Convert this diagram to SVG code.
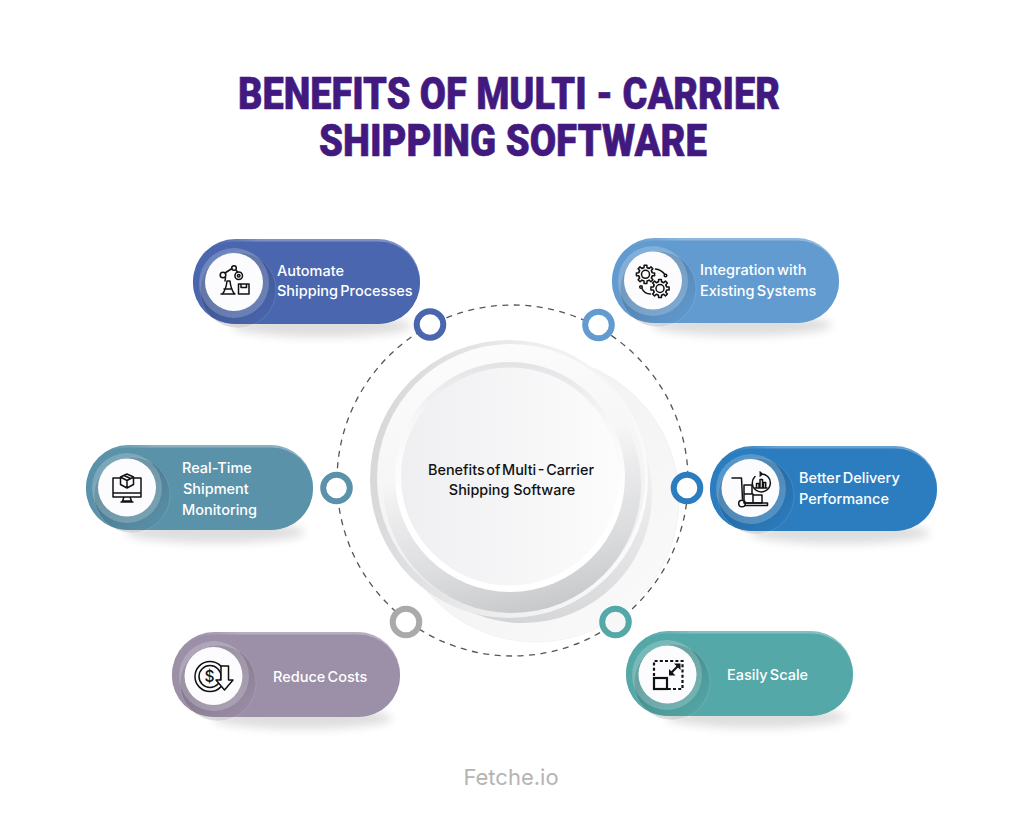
<svg xmlns="http://www.w3.org/2000/svg" width="1024" height="823" viewBox="0 0 1024 823">
<defs>
<linearGradient id="back" x1="0" y1="0" x2="1" y2="1"><stop offset="0" stop-color="#ededee"/><stop offset="1" stop-color="#fbfbfb"/></linearGradient>
<linearGradient id="shade" x1="0.7" y1="0.2" x2="0.45" y2="1"><stop offset="0" stop-color="#f4f4f5"/><stop offset="1" stop-color="#d4d5d7"/></linearGradient>
<linearGradient id="ring" x1="0" y1="0.35" x2="1" y2="0.5"><stop offset="0" stop-color="#d6d7d9"/><stop offset="0.6" stop-color="#f0f0f1"/><stop offset="1" stop-color="#fbfbfc"/></linearGradient>
<linearGradient id="ringIn" x1="0.3" y1="0" x2="0.5" y2="1"><stop offset="0" stop-color="#fcfcfd"/><stop offset="0.55" stop-color="#f5f5f6"/><stop offset="1" stop-color="#ececee"/></linearGradient>
<linearGradient id="well" x1="0.4" y1="0.4" x2="0.55" y2="1"><stop offset="0" stop-color="#cfd0d2" stop-opacity="0"/><stop offset="0.6" stop-color="#d3d4d6" stop-opacity=".65"/><stop offset="1" stop-color="#c8c9cb"/></linearGradient>
<linearGradient id="rim" x1="0" y1="0" x2="0" y2="1"><stop offset="0" stop-color="#e2e3e5"/><stop offset="0.25" stop-color="#f7f7f8"/><stop offset="0.6" stop-color="#fff"/></linearGradient>
<linearGradient id="face" x1="0" y1="0" x2="1" y2="0"><stop offset="0" stop-color="#efeff1"/><stop offset="1" stop-color="#fcfcfd"/></linearGradient>
<linearGradient id="hl" x1="0" y1="0" x2="1" y2="0"><stop offset="0.08" stop-color="#fff" stop-opacity="0"/><stop offset="0.3" stop-color="#fff" stop-opacity=".28"/></linearGradient>
<linearGradient id="ghost" x1="0.35" y1="0.35" x2="0.85" y2="0.95"><stop offset="0" stop-color="#000" stop-opacity=".16"/><stop offset="0.6" stop-color="#000" stop-opacity=".07"/><stop offset="1" stop-color="#000" stop-opacity=".012"/></linearGradient>
<filter id="soft" x="-30%" y="-150%" width="160%" height="400%"><feGaussianBlur stdDeviation="5"/></filter>
<path id="tooth" d="M-2.600-6.300L-1.500-6.700L-1.400-9.100H1.400L1.500-6.700L2.600-6.300"/>
<g id="gear"><use href="#tooth"/><use href="#tooth" transform="rotate(45)"/><use href="#tooth" transform="rotate(90)"/><use href="#tooth" transform="rotate(135)"/><use href="#tooth" transform="rotate(180)"/><use href="#tooth" transform="rotate(225)"/><use href="#tooth" transform="rotate(270)"/><use href="#tooth" transform="rotate(315)"/><circle r="4"/></g>
</defs>
<style>
text{font-family:Inter,"Liberation Sans",sans-serif}
.title{font-family:Roboto,"Liberation Sans",sans-serif;font-weight:900;font-size:44px;fill:#421a7f;stroke:#421a7f;stroke-width:.6;text-anchor:middle}
.lab{font-size:14.5px;font-weight:500;fill:#fff;word-spacing:-1.600px}
.ctr{font-size:14.4px;font-weight:500;fill:#111;text-anchor:middle}
.ic{fill:none;stroke:#111;stroke-width:1.500;stroke-linejoin:round;stroke-linecap:round}
.halo{fill:#fff;opacity:.2}
.disc{fill:#fcfcfe}
.ghost{fill:url(#ghost);stroke:#fff;stroke-opacity:.2;stroke-width:.6}
.shadow{fill:#000;opacity:.13;filter:url(#soft)}
.hl{fill:url(#hl)}
.ringdot{stroke-width:6}
</style>
<rect width="1024" height="823" fill="#fff"/>
<text class="title" x="509" y="108.500" textLength="542" lengthAdjust="spacingAndGlyphs">BENEFITS OF MULTI - CARRIER</text>
<text class="title" x="513" y="156" textLength="388" lengthAdjust="spacingAndGlyphs">SHIPPING SOFTWARE</text>

<g id="center">
<circle cx="536" cy="499" r="143" fill="url(#back)" stroke="#ececee" stroke-width=".6"/>
<circle cx="523" cy="494" r="129" fill="url(#shade)"/>
<circle cx="509" cy="479" r="139" fill="url(#ring)"/>
<circle cx="511" cy="478" r="134" fill="url(#ringIn)"/>
<circle cx="512" cy="484" r="129" fill="url(#well)"/>
<circle cx="510" cy="477" r="115" fill="url(#rim)"/>
<circle cx="510" cy="476.500" r="109" fill="url(#face)"/>
<text class="ctr" x="511" y="475" style="word-spacing:-2.200px">Benefits of Multi - Carrier</text>
<text class="ctr" x="512" y="495">Shipping Software</text>
</g>

<g id="connectors">
<circle cx="512.500" cy="480.500" r="175.500" fill="none" stroke="#555" stroke-width="1.300" stroke-dasharray="6 5.500"/>
<circle class="ringdot" cx="430" cy="324.500" r="13.300" fill="#fff" stroke="#4a66ae"/>
<circle class="ringdot" cx="598.500" cy="325" r="13.300" fill="#fff" stroke="#629bd0"/>
<circle class="ringdot" cx="336.500" cy="488" r="13.300" fill="#fff" stroke="#5a92aa"/>
<circle class="ringdot" cx="687" cy="488" r="13.300" fill="#fff" stroke="#2c7dbf"/>
<circle class="ringdot" cx="406" cy="622" r="13.300" fill="#fff" stroke="#aca9aa"/>
<circle class="ringdot" cx="615.500" cy="622" r="13.300" fill="#f7f7f8" stroke="#55a8a8"/>
</g>

<g id="node-automate">
<ellipse class="shadow" cx="322" cy="326" rx="90" ry="11"/>
<circle class="ghost" cx="238" cy="290" r="38"/>
<rect x="193" y="239" width="227" height="85" rx="42.500" fill="#4a66ae"/>
<rect class="hl" x="193" y="239" width="227" height="85" rx="42.500"/>
<rect x="193" y="241.500" width="227" height="82.500" rx="41.500" fill="#4a66ae"/>
<circle class="ghost" cx="238" cy="290" r="38"/>
<circle class="halo" cx="234" cy="283" r="35"/>
<circle class="disc" cx="234" cy="282" r="29"/>
<g class="ic"><path d="M221 294h14M222.500 294c3-4 4-8 4.500-13h3c.5 5 1.500 9 4.500 13M224 289h8M225 273l7-4.500M225.500 277.500l-.5 3.500M236 270l1.500 2"/><circle cx="223" cy="275" r="2.800"/><circle cx="234" cy="268" r="2.300"/><circle cx="238.700" cy="275.700" r="3.800"/><circle cx="238.700" cy="275.700" r="1.300"/><path d="M238.500 284h10.500v10h-10.500zM241 284v3.500h5.500v-3.500"/></g>
<text class="lab" x="277" y="275.500">Automate</text>
<text class="lab" x="277" y="295.500">Shipping Processes</text>
</g>

<g id="node-integration">
<ellipse class="shadow" cx="742" cy="325" rx="90" ry="11"/>
<circle class="ghost" cx="658" cy="289" r="38"/>
<rect x="612" y="238" width="227" height="85" rx="42.500" fill="#629bd0"/>
<rect class="hl" x="612" y="238" width="227" height="85" rx="42.500"/>
<rect x="612" y="240.500" width="227" height="82.500" rx="41.500" fill="#629bd0"/>
<circle class="ghost" cx="658" cy="289" r="38"/>
<circle class="halo" cx="653" cy="281" r="35"/>
<circle class="disc" cx="653" cy="280.500" r="29"/>
<g class="ic" stroke-width="1.200"><use href="#gear" x="645.500" y="274.300"/><use href="#gear" x="660" y="288.500"/><path d="M655.500 269c4 .5 7 2.500 9 5M650.500 294c-4 0-7-2-8.500-5.500"/><circle cx="665.500" cy="275.500" r="1.300"/><circle cx="641" cy="287" r="1.300"/></g>
<text class="lab" x="700" y="274.500">Integration with</text>
<text class="lab" x="700" y="295.500">Existing Systems</text>
</g>

<g id="node-monitoring">
<ellipse class="shadow" cx="215" cy="532" rx="90" ry="11"/>
<circle class="ghost" cx="132" cy="495" r="38"/>
<rect x="86" y="445" width="227" height="85" rx="42.500" fill="#5a92aa"/>
<rect class="hl" x="86" y="445" width="227" height="85" rx="42.500"/>
<rect x="86" y="447.500" width="227" height="82.500" rx="41.500" fill="#5a92aa"/>
<circle class="ghost" cx="132" cy="495" r="38"/>
<circle class="halo" cx="127" cy="488" r="35"/>
<circle class="disc" cx="127" cy="487.500" r="29"/>
<g class="ic"><path d="M120 478h-7v19h28v-19h-7M113 493h28M124 497l-1.500 4h9l-1.500-4M121 502h12"/><path d="M127 474l6.500 3v7.500l-6.500 3.500-6.500-3.500v-7.500zM120.500 477l6.500 3.500 6.500-3.500M127 480.500v7.500M124 475.500l6.500 3"/></g>
<text class="lab" x="182" y="473">Real-Time</text>
<text class="lab" x="183" y="494">Shipment</text>
<text class="lab" x="182" y="515">Monitoring</text>
</g>

<g id="node-delivery">
<ellipse class="shadow" cx="840" cy="533" rx="90" ry="11"/>
<circle class="ghost" cx="756" cy="496" r="38"/>
<rect x="710" y="446" width="227" height="85" rx="42.500" fill="#2c7dbf"/>
<rect class="hl" x="710" y="446" width="227" height="85" rx="42.500"/>
<rect x="710" y="448.500" width="227" height="82.500" rx="41.500" fill="#2c7dbf"/>
<circle class="ghost" cx="756" cy="496" r="38"/>
<circle class="halo" cx="751" cy="489" r="35"/>
<circle class="disc" cx="750.500" cy="488" r="29"/>
<g class="ic"><path d="M732 478h9.500l1 21M745 505.500h22.500v-2.500h-23"/><circle cx="742" cy="503.500" r="3.300"/><path d="M744 485h8v9h-8zM744 494h9v9h-9zM753 495h9v8h-9z"/><path d="M755 476.500a9 9 0 1 0 5-2.500M760 472l2.200 2-2.200 2"/><path d="M756.500 487.500v-4h2.500v4M760 487.500v-8h2.500v8M763.500 487.500v-5h2.200v5M755 488h12"/></g>
<text class="lab" x="799" y="482.500">Better Delivery</text>
<text class="lab" x="799" y="503.500">Performance</text>
</g>

<g id="node-costs">
<ellipse class="shadow" cx="302" cy="718" rx="90" ry="11"/>
<circle class="ghost" cx="218" cy="683" r="38"/>
<rect x="172" y="632" width="228" height="85" rx="42.500" fill="#9c8fa8"/>
<rect class="hl" x="172" y="632" width="228" height="85" rx="42.500"/>
<rect x="172" y="634.500" width="228" height="82.500" rx="41.500" fill="#9c8fa8"/>
<circle class="ghost" cx="218" cy="683" r="38"/>
<circle class="halo" cx="214" cy="676" r="35"/>
<circle class="disc" cx="213.500" cy="676" r="29"/>
<g class="ic"><circle cx="210" cy="676.500" r="15"/><circle cx="210" cy="676.500" r="11"/><path d="M221 666h7.500v14h4.500l-8.500 10-8.500-10h5z" fill="#fcfcfe"/></g>
<text x="209.500" y="682" font-size="15.500" font-weight="500" fill="#111" text-anchor="middle">$</text>
<text class="lab" x="273" y="681.500">Reduce Costs</text>
</g>

<g id="node-scale">
<ellipse class="shadow" cx="756" cy="717" rx="90" ry="11"/>
<circle class="ghost" cx="672" cy="682" r="38"/>
<rect x="626" y="631" width="227" height="85" rx="42.500" fill="#55a8a8"/>
<rect class="hl" x="626" y="631" width="227" height="85" rx="42.500"/>
<rect x="626" y="633.500" width="227" height="82.500" rx="41.500" fill="#55a8a8"/>
<circle class="ghost" cx="672" cy="682" r="38"/>
<circle class="halo" cx="667" cy="675" r="35"/>
<circle class="disc" cx="667.500" cy="674.500" r="29"/>
<path d="M654 676v-15h28.500v28h-15" fill="none" stroke="#111" stroke-width="2.200" stroke-dasharray="3 2.200"/>
<rect x="654" y="678" width="13" height="11" fill="none" stroke="#111" stroke-width="2.200"/>
<path d="M671 673l7-7" fill="none" stroke="#111" stroke-width="2.200"/>
<path d="M674 663.500h6.500v6.500zM669 669v6.500h6.500z" fill="#111"/>
<text class="lab" x="727" y="679.500">Easily Scale</text>
</g>

<text x="511" y="785" font-family="Open Sans,Liberation Sans,sans-serif" font-size="22" font-weight="400" fill="#b4b4b4" text-anchor="middle">Fetche.io</text>
</svg>
